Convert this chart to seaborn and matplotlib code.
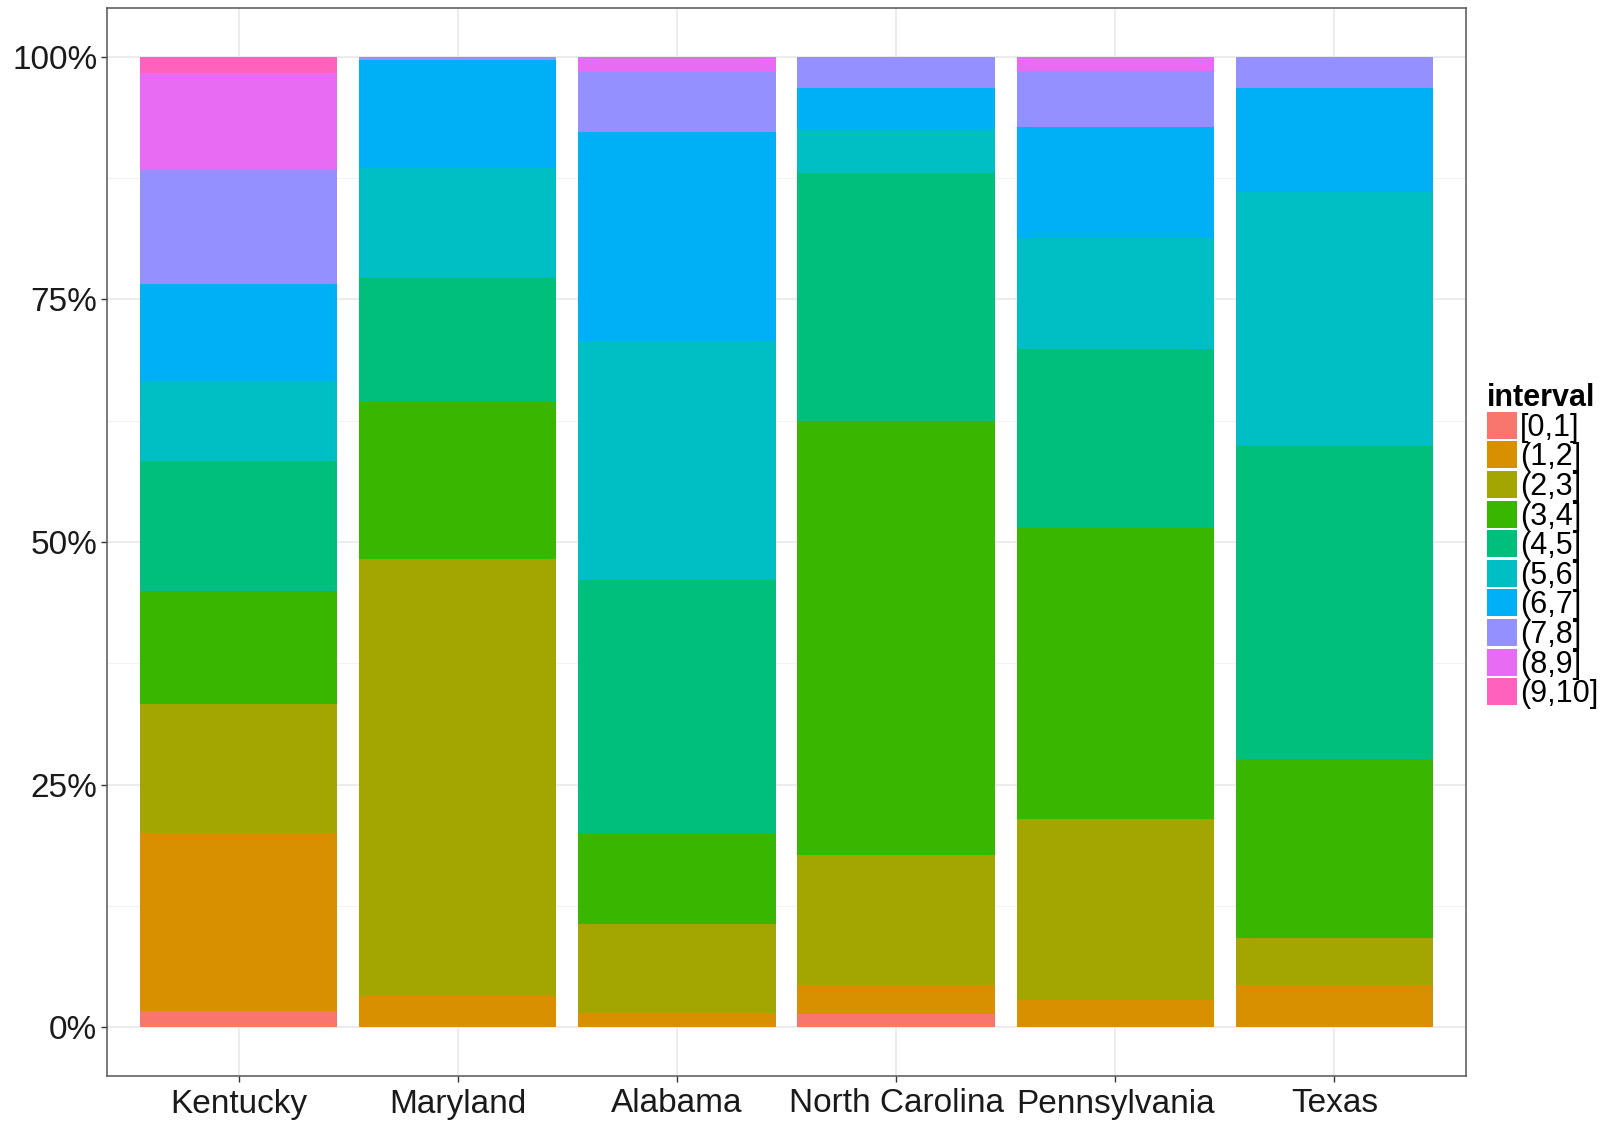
import numpy as np
import pandas as pd
import matplotlib
matplotlib.use("Agg")
import matplotlib.pyplot as plt
from matplotlib.patches import Patch
from matplotlib.ticker import FixedLocator, FuncFormatter
import seaborn as sns

states = ["Kentucky", "Maryland", "Alabama", "North Carolina", "Pennsylvania", "Texas"]
intervals = ["[0,1]", "(1,2]", "(2,3]", "(3,4]", "(4,5]",
             "(5,6]", "(6,7]", "(7,8]", "(8,9]", "(9,10]"]
colors = ["#F8766D", "#D89000", "#A3A500", "#39B600", "#00BF7D",
          "#00BFC4", "#00B0F6", "#9590FF", "#E76BF3", "#FF62BC"]

# share (%) of each interval per state
kentucky = [1.7, 18.3, 13.3, 11.7, 13.3, 8.3, 10.0, 11.7, 10.0, 1.7]
maryland = [0, 3.2, 45.0, 16.2, 12.8, 11.3, 11.1, 0.4, 0, 0]
alabama = [0, 1.5, 9.2, 9.2, 26.2, 24.6, 21.5, 6.2, 1.6, 0]
north_carolina = [1.4, 3.0, 13.4, 44.7, 25.5, 4.5, 4.3, 3.2, 0, 0]
pennsylvania = [0, 2.8, 18.7, 30.0, 18.4, 11.5, 11.4, 5.8, 1.5, 0]
texas = [0, 4.4, 4.8, 18.4, 32.3, 26.2, 10.7, 3.2, 0, 0]

shares = [kentucky, maryland, alabama, north_carolina, pennsylvania, texas]

rows = []
for st, vals in zip(states, shares):
    for iv, v in zip(intervals, vals):
        rows.append({"state": st, "interval": iv, "pct": v})
df = pd.DataFrame(rows)
df["pct"] = df["pct"] / df.groupby("state")["pct"].transform("sum") * 100
df["cum"] = df.groupby("state")["pct"].cumsum()

plt.rcParams["font.family"] = ["Liberation Sans", "DejaVu Sans"]

fig = plt.figure(figsize=(16.15, 11.22), dpi=100)
ax = fig.add_axes([107 / 1615, 1 - 1076 / 1122, (1466 - 107) / 1615, (1076 - 8) / 1122])
ax.set_facecolor("white")

# stacked bars: draw cumulative heights from the top interval down
for iv, c in zip(intervals[::-1], colors[::-1]):
    sub = df[df["interval"] == iv]
    sns.barplot(data=sub, x="state", y="cum", order=states, color=c,
                saturation=1, width=0.9, linewidth=0, errorbar=None, ax=ax)

ax.set_xlim(-0.6, len(states) - 0.4)
ax.set_ylim(-5, 105)
ax.set_axisbelow(True)

ax.yaxis.set_major_locator(FixedLocator([0, 25, 50, 75, 100]))
ax.yaxis.set_minor_locator(FixedLocator([12.5, 37.5, 62.5, 87.5]))
ax.yaxis.set_major_formatter(FuncFormatter(lambda v, p: f"{int(v)}%"))
ax.grid(True, which="major", axis="both", color="#EBEBEB", linewidth=1.3)
ax.grid(True, which="minor", axis="y", color="#F2F2F2", linewidth=0.7)

ax.set_xlabel("")
ax.set_ylabel("")
ax.tick_params(axis="both", which="major", length=4, width=1, color="#333333",
               labelsize=24, labelcolor="#1a1a1a", pad=3)
ax.tick_params(axis="x", which="major", pad=5)
ax.tick_params(axis="y", which="minor", length=0)
for s in ax.spines.values():
    s.set_color("#555555")
    s.set_linewidth(1.1)

handles = [Patch(facecolor=c, edgecolor="none") for c in colors]
leg = fig.legend(handles, intervals, title="interval", loc="upper left",
                 bbox_to_anchor=(1487 / 1615, 1 - 383 / 1122), frameon=False,
                 fontsize=22, handlelength=0.97, handleheight=0.985,
                 handletextpad=0.1, labelspacing=-0.045, borderpad=0,
                 borderaxespad=0, alignment="left")
leg.get_title().set_fontweight("bold")
leg.get_title().set_fontsize(22)

fig.savefig("out.png", dpi=100, facecolor="white")
